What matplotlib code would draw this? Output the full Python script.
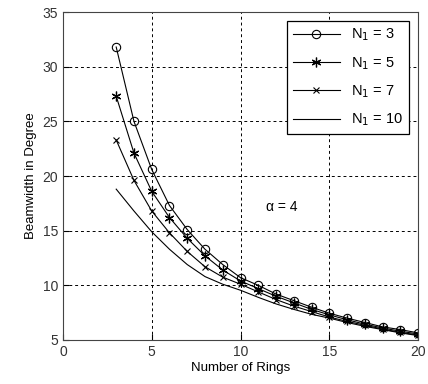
import matplotlib
matplotlib.use('Agg')
import matplotlib.pyplot as plt

plt.rcParams['font.family'] = ['Liberation Sans', 'DejaVu Sans']

# ========== Datos ==========
rings = [3, 4, 5, 6, 7, 8, 9, 10, 11, 12, 13, 14, 15, 16, 17, 18, 19, 20]
bw_n3 = [31.8, 25.0, 20.6, 17.3, 15.1, 13.3, 11.9, 10.7, 10.0, 9.2, 8.6, 8.0, 7.45, 7.0, 6.6, 6.2, 5.95, 5.65]
bw_n5 = [27.3, 22.1, 18.6, 16.2, 14.3, 12.7, 11.4, 10.4, 9.7, 9.0, 8.4, 7.8, 7.3, 6.85, 6.45, 6.1, 5.8, 5.55]
bw_n7 = [23.3, 19.6, 16.8, 14.8, 13.1, 11.7, 10.75, 10.1, 9.4, 8.7, 8.1, 7.6, 7.1, 6.7, 6.35, 6.0, 5.7, 5.45]
bw_n10 = [18.8, 16.8, 14.9, 13.3, 11.9, 10.8, 10.1, 9.55, 8.9, 8.3, 7.8, 7.35, 7.0, 6.6, 6.25, 5.95, 5.65, 5.4]

x_ticks = [0, 5, 10, 15, 20]
y_ticks = [5, 10, 15, 20, 25, 30, 35]

# ========== Grafico ==========
fig = plt.figure(figsize=(4.28, 3.84), dpi=100)
ax = fig.add_axes([0.147, 0.1146, 0.83, 0.854])

ax.plot(rings, bw_n3, color='k', lw=0.8, marker='o', ms=6, mfc='none', mew=0.8, label='N$_1$ = 3')
ax.plot(rings, bw_n5, color='k', lw=0.8, marker=(6, 2, 0), ms=7, mew=0.9, label='N$_1$ = 5')
ax.plot(rings, bw_n7, color='k', lw=0.8, marker='x', ms=4, mew=0.8, label='N$_1$ = 7')
ax.plot(rings, bw_n10, color='k', lw=0.8, label='N$_1$ = 10')

ax.set_xlim(0, 20)
ax.set_ylim(5, 35)
ax.set_xticks(x_ticks)
ax.set_yticks(y_ticks)
ax.tick_params(direction='in', labelsize=10, length=4, labelcolor='#333333')
ax.grid(True, color='k', linestyle=(0, (3, 3)), linewidth=0.7)

ax.set_xlabel('Number of Rings', fontsize=9.5, labelpad=2)
ax.set_ylabel('Beamwidth in Degree', fontsize=9.5, labelpad=4)

ax.text(12.3, 17.2, 'α = 4', fontsize=10, ha='center', va='center')

leg = ax.legend(loc='upper right', fontsize=10.5, fancybox=False, edgecolor='k',
                framealpha=1, handlelength=3.2, borderaxespad=0.6, labelspacing=0.8)
leg.get_frame().set_linewidth(0.9)

for s in ax.spines.values():
    s.set_color('#444444')

plt.savefig('out.png', dpi=100)
